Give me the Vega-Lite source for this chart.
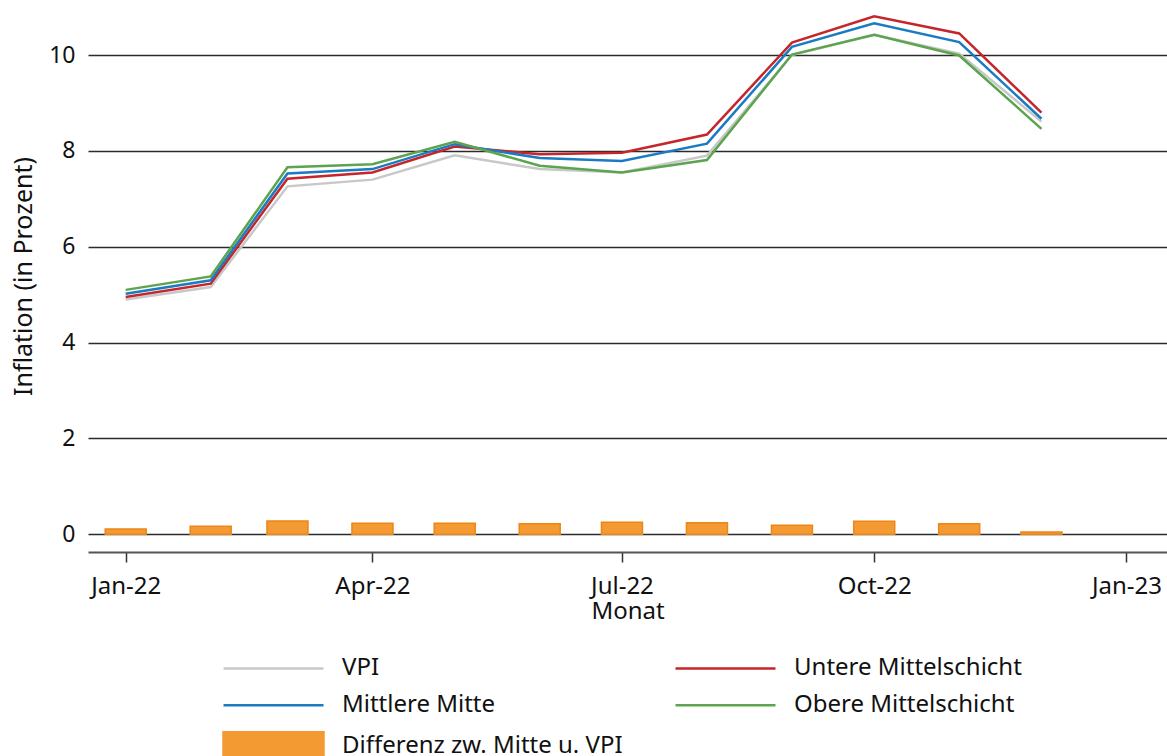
{
  "$schema": "https://vega.github.io/schema/vega-lite/v6.json",
  "width": 1079,
  "height": 552,
  "autosize": {"type": "none"},
  "padding": {"left": 88, "top": 0, "right": 0, "bottom": 204},
  "background": "white",
  "config": {"view": {"stroke": null}, "font": "Noto Sans"},
  "data": {"values": [
    {"month": "2022-01-01", "series": "VPI", "value": 4.90},
    {"month": "2022-02-01", "series": "VPI", "value": 5.16},
    {"month": "2022-03-01", "series": "VPI", "value": 7.26},
    {"month": "2022-04-01", "series": "VPI", "value": 7.40},
    {"month": "2022-05-01", "series": "VPI", "value": 7.91},
    {"month": "2022-06-01", "series": "VPI", "value": 7.62},
    {"month": "2022-07-01", "series": "VPI", "value": 7.55},
    {"month": "2022-08-01", "series": "VPI", "value": 7.90},
    {"month": "2022-09-01", "series": "VPI", "value": 10.00},
    {"month": "2022-10-01", "series": "VPI", "value": 10.42},
    {"month": "2022-11-01", "series": "VPI", "value": 10.03},
    {"month": "2022-12-01", "series": "VPI", "value": 8.61},
    {"month": "2022-01-01", "series": "Untere Mittelschicht", "value": 4.95},
    {"month": "2022-02-01", "series": "Untere Mittelschicht", "value": 5.23},
    {"month": "2022-03-01", "series": "Untere Mittelschicht", "value": 7.42},
    {"month": "2022-04-01", "series": "Untere Mittelschicht", "value": 7.55},
    {"month": "2022-05-01", "series": "Untere Mittelschicht", "value": 8.09},
    {"month": "2022-06-01", "series": "Untere Mittelschicht", "value": 7.93},
    {"month": "2022-07-01", "series": "Untere Mittelschicht", "value": 7.96},
    {"month": "2022-08-01", "series": "Untere Mittelschicht", "value": 8.34},
    {"month": "2022-09-01", "series": "Untere Mittelschicht", "value": 10.26},
    {"month": "2022-10-01", "series": "Untere Mittelschicht", "value": 10.81},
    {"month": "2022-11-01", "series": "Untere Mittelschicht", "value": 10.45},
    {"month": "2022-12-01", "series": "Untere Mittelschicht", "value": 8.80},
    {"month": "2022-01-01", "series": "Mittlere Mitte", "value": 5.02},
    {"month": "2022-02-01", "series": "Mittlere Mitte", "value": 5.30},
    {"month": "2022-03-01", "series": "Mittlere Mitte", "value": 7.53},
    {"month": "2022-04-01", "series": "Mittlere Mitte", "value": 7.62},
    {"month": "2022-05-01", "series": "Mittlere Mitte", "value": 8.14},
    {"month": "2022-06-01", "series": "Mittlere Mitte", "value": 7.85},
    {"month": "2022-07-01", "series": "Mittlere Mitte", "value": 7.79},
    {"month": "2022-08-01", "series": "Mittlere Mitte", "value": 8.15},
    {"month": "2022-09-01", "series": "Mittlere Mitte", "value": 10.17},
    {"month": "2022-10-01", "series": "Mittlere Mitte", "value": 10.66},
    {"month": "2022-11-01", "series": "Mittlere Mitte", "value": 10.27},
    {"month": "2022-12-01", "series": "Mittlere Mitte", "value": 8.67},
    {"month": "2022-01-01", "series": "Obere Mittelschicht", "value": 5.10},
    {"month": "2022-02-01", "series": "Obere Mittelschicht", "value": 5.38},
    {"month": "2022-03-01", "series": "Obere Mittelschicht", "value": 7.66},
    {"month": "2022-04-01", "series": "Obere Mittelschicht", "value": 7.72},
    {"month": "2022-05-01", "series": "Obere Mittelschicht", "value": 8.19},
    {"month": "2022-06-01", "series": "Obere Mittelschicht", "value": 7.69},
    {"month": "2022-07-01", "series": "Obere Mittelschicht", "value": 7.55},
    {"month": "2022-08-01", "series": "Obere Mittelschicht", "value": 7.81},
    {"month": "2022-09-01", "series": "Obere Mittelschicht", "value": 10.01},
    {"month": "2022-10-01", "series": "Obere Mittelschicht", "value": 10.42},
    {"month": "2022-11-01", "series": "Obere Mittelschicht", "value": 9.99},
    {"month": "2022-12-01", "series": "Obere Mittelschicht", "value": 8.46},
    {"month": "2022-01-01", "series": "Differenz zw. Mitte u. VPI", "value": 0.11},
    {"month": "2022-02-01", "series": "Differenz zw. Mitte u. VPI", "value": 0.17},
    {"month": "2022-03-01", "series": "Differenz zw. Mitte u. VPI", "value": 0.28},
    {"month": "2022-04-01", "series": "Differenz zw. Mitte u. VPI", "value": 0.23},
    {"month": "2022-05-01", "series": "Differenz zw. Mitte u. VPI", "value": 0.23},
    {"month": "2022-06-01", "series": "Differenz zw. Mitte u. VPI", "value": 0.22},
    {"month": "2022-07-01", "series": "Differenz zw. Mitte u. VPI", "value": 0.25},
    {"month": "2022-08-01", "series": "Differenz zw. Mitte u. VPI", "value": 0.24},
    {"month": "2022-09-01", "series": "Differenz zw. Mitte u. VPI", "value": 0.19},
    {"month": "2022-10-01", "series": "Differenz zw. Mitte u. VPI", "value": 0.27},
    {"month": "2022-11-01", "series": "Differenz zw. Mitte u. VPI", "value": 0.22},
    {"month": "2022-12-01", "series": "Differenz zw. Mitte u. VPI", "value": 0.05}
  ]},
  "encoding": {
    "x": {
      "field": "month", "type": "temporal", "title": "Monat",
      "scale": {"type": "utc", "nice": false, "padding": 0, "domain": [
        {"year": 2021, "month": 12, "date": 18, "hours": 6, "utc": true},
        {"year": 2023, "month": 1, "date": 15, "hours": 19, "utc": true}
      ]},
      "axis": {
        "values": [
          {"year": 2022, "month": 1, "date": 1, "utc": true},
          {"year": 2022, "month": 4, "date": 1, "utc": true},
          {"year": 2022, "month": 7, "date": 1, "utc": true},
          {"year": 2022, "month": 10, "date": 1, "utc": true},
          {"year": 2023, "month": 1, "date": 1, "utc": true}
        ],
        "format": "%b-%y", "grid": false,
        "domainColor": "#555555", "domainWidth": 2,
        "tickColor": "#333333", "tickWidth": 1.5, "tickSize": 10,
        "labelFontSize": 24, "labelColor": "#111111", "labelPadding": 12,
        "labelFlush": false, "labelOverlap": false,
        "titleFontSize": 24, "titleFontWeight": "normal", "titleColor": "#111111", "titlePadding": 1
      }
    },
    "y": {
      "field": "value", "type": "quantitative", "title": "Inflation (in Prozent)",
      "scale": {"domain": [-0.369, 11.148], "nice": false, "zero": false},
      "axis": {
        "values": [0, 2, 4, 6, 8, 10],
        "domain": false, "ticks": false,
        "grid": true, "gridColor": "#2b2b2b", "gridWidth": 1.6,
        "labelFontSize": 23, "labelColor": "#111111", "labelPadding": 13,
        "titleFontSize": 25, "titleFontWeight": "normal", "titleColor": "#111111", "titlePadding": 12
      }
    },
    "color": {
      "field": "series", "type": "nominal",
      "scale": {
        "domain": ["VPI", "Untere Mittelschicht", "Mittlere Mitte", "Obere Mittelschicht", "Differenz zw. Mitte u. VPI"],
        "range": ["#C8C8C8", "#C4262B", "#1A7BC3", "#5CA44F", "#F39A33"]
      },
      "legend": {
        "orient": "none", "legendX": 170, "legendY": 652.7, "direction": "horizontal", "columns": 2,
        "title": null, "symbolSize": 784, "symbolStrokeWidth": 2.5,
        "labelFont": "Noto Sans", "labelFontSize": 24, "labelColor": "#111111", "labelOffset": 53, "labelLimit": 500,
        "rowPadding": 9, "columnPadding": 47, "padding": 0,
        "encode": {
          "symbols": {
            "update": {
              "shape": {"signal": "datum.label === 'Differenz zw. Mitte u. VPI' ? 'M-3.571,-1H3.571V1H-3.571Z' : 'M-3.571,0H3.571'"},
              "fill": {"signal": "datum.label === 'Differenz zw. Mitte u. VPI' ? '#F39A33' : 'transparent'"},
              "stroke": {"signal": "datum.label === 'Differenz zw. Mitte u. VPI' ? '#EE8517' : scale('color', datum.value)"},
              "strokeWidth": {"value": 2.5},
              "opacity": {"value": 1}
            }
          }
        }
      }
    }
  },
  "layer": [
    {
      "transform": [{"filter": "datum.series === 'Differenz zw. Mitte u. VPI'"}],
      "mark": {"type": "bar", "size": 41, "stroke": "#EE8517", "strokeWidth": 1.5}
    },
    {
      "transform": [{"filter": "datum.series !== 'Differenz zw. Mitte u. VPI'"}],
      "mark": {"type": "line", "strokeWidth": 2.5}
    }
  ]
}
